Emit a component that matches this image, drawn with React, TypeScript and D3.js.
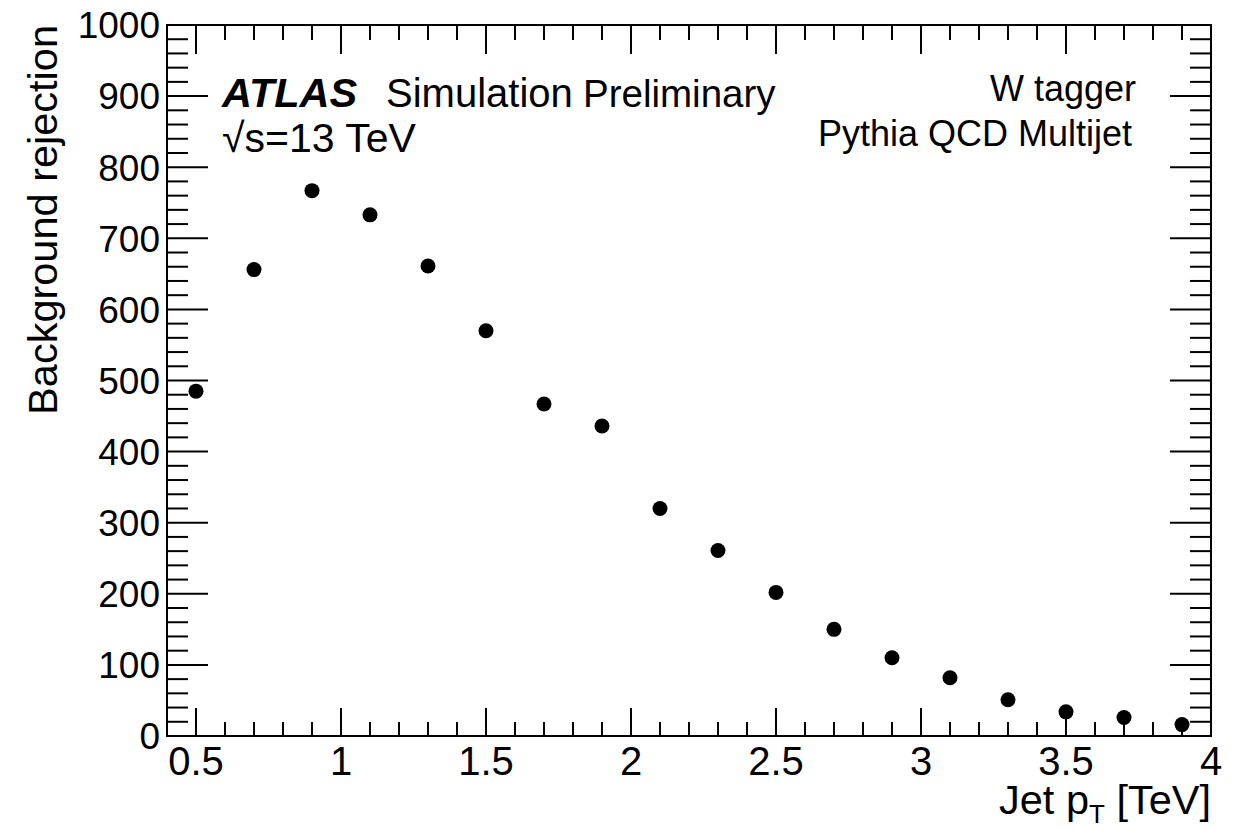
import React from "react";
import * as d3 from "d3";

const ptValues = [0.5, 0.7, 0.9, 1.1, 1.3, 1.5, 1.7, 1.9, 2.1, 2.3, 2.5, 2.7, 2.9, 3.1, 3.3, 3.5, 3.7, 3.9];
const rejection = [485, 656, 767, 733, 661, 570, 467, 436, 320, 261, 202, 150, 110, 82, 51, 34, 26, 16];
const xTickLabels = ["0.5", "1", "1.5", "2", "2.5", "3", "3.5", "4"];
const yTickLabels = ["0", "100", "200", "300", "400", "500", "600", "700", "800", "900", "1000"];

const W = 1243;
const H = 830;
const L = 167, R = 1211, T = 25, B = 736;
const FONT = "'Liberation Sans', Arial, Helvetica, sans-serif";

export default function App() {
  const x = d3.scaleLinear().domain([0.4, 4.0]).range([L, R]);
  const y = d3.scaleLinear().domain([0, 1000]).range([B, T]);

  const xMinor = d3.range(4, 41).map((v) => v / 10);
  const xMajor = xTickLabels.map(Number);
  const yMinor = d3.range(0, 1001, 20);
  const yMajor = yTickLabels.map(Number);

  const isXMajor = (v: number) => xMajor.some((m) => Math.abs(m - v) < 1e-6);
  const isYMajor = (v: number) => yMajor.includes(v);

  const sw = 2;
  return (
    <svg width={W} height={H} style={{ position: "absolute", left: 0, top: 0, background: "#fff" }} fontFamily={FONT}>
      <rect x={0} y={0} width={W} height={H} fill="#fff" />
      {xMinor.map((v, i) => {
        const major = isXMajor(v);
        const xb = x(v);
        return (
          <g key={"xt" + i} stroke="#000" strokeWidth={sw}>
            <line x1={xb} x2={xb} y1={B} y2={B - (major ? 28 : 14)} />
            <line x1={xb} x2={xb} y1={T} y2={T + (major ? 29 : 15)} />
          </g>
        );
      })}
      {yMinor.map((v, i) => {
        const major = isYMajor(v);
        const yy = y(v);
        return (
          <g key={"yt" + i} stroke="#000" strokeWidth={sw}>
            <line x1={L} x2={L + (major ? 41 : 21)} y1={yy} y2={yy} />
            <line x1={R} x2={R - (major ? 41 : 21)} y1={yy} y2={yy} />
          </g>
        );
      })}
      <rect x={L} y={T} width={R - L} height={B - T} fill="none" stroke="#000" strokeWidth={sw} />

      {xTickLabels.map((t) => (
        <text key={"xl" + t} x={x(Number(t))} y={775} fontSize={40} textAnchor="middle">
          {t}
        </text>
      ))}
      {yTickLabels.map((t) => (
        <text key={"yl" + t} x={160} y={y(Number(t))} dy="0.36em" fontSize={37} textAnchor="end">
          {t}
        </text>
      ))}

      <text x={R} y={814} fontSize={41.5} textAnchor="end">
        <tspan>Jet p</tspan>
        <tspan fontSize={26} dy={9}>T</tspan>
        <tspan dy={-9}> [TeV]</tspan>
      </text>
      <text transform={`translate(57, ${T}) rotate(-90)`} fontSize={41.5} textAnchor="end">
        Background rejection
      </text>

      <text x={222} y={107} fontSize={41.5} fontWeight="bold" fontStyle="italic">ATLAS</text>
      <text x={386} y={107} fontSize={40}>Simulation</text>
      <text x={583} y={107} fontSize={38.5}>Preliminary</text>
      <text x={222} y={152} fontSize={41}>√s=13 TeV</text>
      <text x={1136} y={101} fontSize={36} textAnchor="end">W tagger</text>
      <text x={1132} y={146} fontSize={36} textAnchor="end">Pythia QCD Multijet</text>

      {ptValues.map((p, i) => (
        <circle key={"pt" + i} cx={x(p)} cy={y(rejection[i])} r={7.5} fill="#000" />
      ))}
    </svg>
  );
}
